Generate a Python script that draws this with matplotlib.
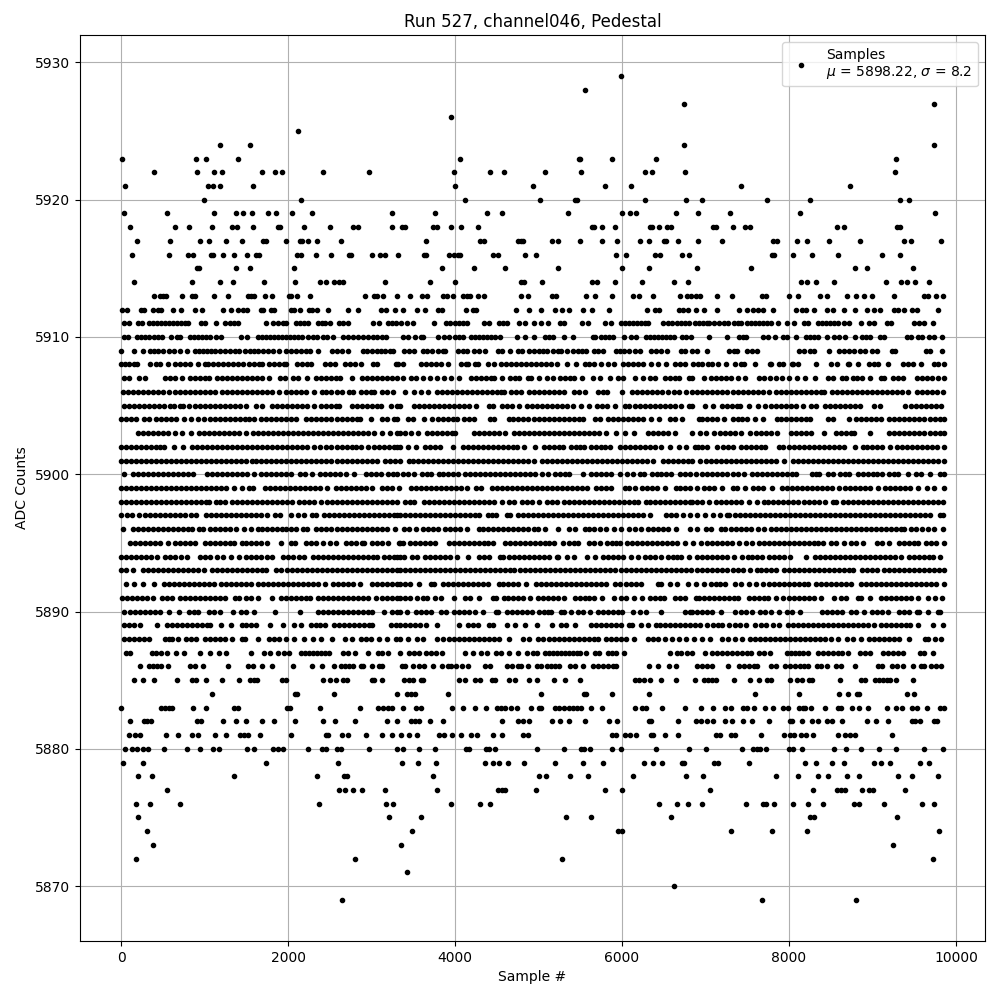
import matplotlib
matplotlib.use("Agg")
import matplotlib.pyplot as plt

# sample numbers, one list per ADC level
row_5929 = [5988]
row_5928 = [5556]
row_5927 = [6744, 9732]
row_5926 = [3956]
row_5925 = [2120]
row_5924 = [1184, 1544, 6744, 9732]
row_5923 = [8, 896, 1016, 1400, 4064, 5484, 5496, 5880, 6408, 9288]
row_5922 = [392, 908, 1112, 1208, 1688, 1844, 1928, 2420, 2972, 3992, 4424, 4592, 5076, 5508, 6276, 6360, 6756, 9276]
row_5921 = [44, 1040, 1100, 1184, 1580, 4004, 4932, 5796, 6108, 7428, 8736]
row_5920 = [992, 2156, 4124, 5016, 5436, 5460, 6276, 6768, 6960, 7740, 8256, 9336, 9444]
row_5919 = [32, 548, 1112, 1376, 1460, 1568, 1760, 1856, 2048, 2288, 3248, 3764, 4388, 4568, 5352, 6000, 6096, 6168,
            6648, 6912, 7296, 8136, 9744]
row_5918 = [104, 644, 812, 1088, 1328, 1388, 1580, 1880, 1904, 2192, 2504, 2780, 2840, 3248, 3368, 3404, 3740, 3788,
            3956, 4076, 4280, 5640, 5664, 5760, 5916, 6336, 6360, 6444, 6540, 6588, 7092, 7128, 7332, 7476, 7536,
            8580, 8664, 9300, 9336]
row_5917 = [188, 584, 944, 1052, 1256, 1448, 1700, 1736, 1976, 2144, 2168, 2240, 2348, 2636, 3656, 4304, 4352, 4760,
            4788, 4812, 5160, 5232, 5496, 5760, 5940, 6216, 6324, 6504, 6528, 6672, 6912, 7200, 7812, 7860, 8100,
            8220, 8484, 8856, 9384, 9468, 9816]
row_5916 = [128, 572, 800, 860, 1076, 1100, 1220, 1352, 1508, 1616, 1652, 2108, 2156, 2336, 2516, 2732, 2756, 3008,
            3104, 3164, 3320, 3632, 3656, 3932, 3992, 4040, 4064, 4460, 4520, 4836, 4968, 5928, 6048, 6396, 6456,
            6720, 6804, 7800, 7824, 8052, 8280, 8592, 9120, 9336]
row_5915 = [908, 932, 1376, 1544, 2072, 3848, 4232, 4604, 5232, 6000, 6324, 6900, 7548, 8796, 8940, 9492]
row_5914 = [152, 848, 1184, 1340, 1712, 2084, 2384, 2456, 2552, 2612, 2660, 3164, 3704, 4004, 4788, 4824, 5040, 5640,
            5700, 5916, 6240, 6624, 6792, 8148, 8220, 8328, 8544, 9168, 9348, 9420, 9516, 9672]
row_5913 = [392, 464, 500, 536, 728, 848, 884, 1112, 1280, 1520, 1556, 1592, 1724, 1808, 2012, 2036, 2108, 2264, 2924,
            3032, 3068, 3140, 3308, 3464, 3608, 3668, 3860, 3908, 3980, 4100, 4148, 4184, 4280, 4352, 4788, 4872,
            5160, 5208, 5568, 5676, 5880, 6132, 6204, 6372, 6696, 6780, 6828, 6888, 6936, 7140, 7320, 7680, 7728,
            8004, 8112, 8376, 8460, 8700, 8808, 8904, 9000, 9264, 9624, 9660, 9756, 9840]
row_5912 = [8, 68, 236, 272, 380, 440, 476, 620, 716, 884, 968, 1220, 1316, 1400, 1460, 1508, 1676, 1700, 1796, 1832,
            2036, 2072, 2144, 2252, 2288, 2348, 2480, 2720, 2840, 3116, 3176, 3284, 3380, 3548, 3644, 3800, 3848,
            4136, 4220, 4256, 4736, 4884, 5028, 5196, 5280, 5364, 5532, 5640, 5844, 6300, 6396, 6444, 6684, 6732,
            6792, 6888, 6984, 7140, 7404, 7500, 7572, 7632, 7692, 7812, 8088, 8160, 8208, 8304, 8460, 8532, 8664,
            8796, 8940, 9024, 9096, 9264, 9312, 9384, 9480, 9540, 9780]
row_5911 = [32, 92, 200, 248, 332, 380, 428, 476, 524, 572, 620, 668, 716, 764, 800, 956, 1004, 1132, 1244, 1304, 1352,
            1400, 1736, 1820, 1880, 1940, 1976, 2096, 2144, 2192, 2240, 2360, 2408, 2444, 2504, 2612, 2660, 2720,
            3020, 3092, 3200, 3248, 3296, 3356, 3428, 3500, 3752, 3896, 3944, 4004, 4052, 4100, 4148, 4352, 4412,
            4532, 4580, 4628, 4772, 4836, 4944, 5028, 5112, 5256, 5304, 5520, 5592, 5796, 5868, 5988, 6036, 6084,
            6132, 6180, 6228, 6276, 6312, 6492, 6552, 6600, 6660, 6708, 6756, 6804, 6876, 6924, 6972, 7020, 7044,
            7104, 7164, 7224, 7272, 7344, 7392, 7428, 7500, 7548, 7596, 7644, 7692, 7740, 7788, 7872, 7980, 8064,
            8180, 8228, 8352, 8400, 8448, 8496, 8544, 8592, 8664, 8724, 8868, 8964, 9024, 9180, 9228, 9504, 9564,
            9624, 9720]
row_5910 = [32, 80, 188, 236, 284, 332, 392, 440, 488, 596, 668, 704, 824, 872, 920, 968, 1016, 1064, 1136, 1196, 1436,
            1508, 1640, 1688, 1736, 1784, 1832, 1880, 1928, 1976, 2024, 2072, 2120, 2168, 2240, 2300, 2348, 2420,
            2468, 2540, 2660, 2720, 2780, 2840, 2900, 2960, 3020, 3060, 3128, 3176, 3380, 3440, 3524, 3596, 3620,
            3800, 3872, 3932, 4004, 4052, 4100, 4196, 4244, 4292, 4340, 4388, 4436, 4484, 4544, 4748, 4840, 4944,
            5076, 5124, 5172, 5304, 5412, 5652, 5676, 5748, 5796, 5844, 5892, 6024, 6108, 6168, 6288, 6336, 6384,
            6432, 6480, 6528, 6576, 6624, 6720, 6768, 6828, 7044, 7260, 7404, 7452, 7488, 7692, 7752, 7836, 7932,
            7980, 8088, 8208, 8256, 8304, 8352, 8460, 8544, 8604, 8676, 8788, 8880, 8928, 8976, 9096, 9144, 9420,
            9468, 9552, 9600, 9672, 9732, 9828]
row_5909 = [0, 160, 260, 340, 388, 440, 500, 572, 628, 700, 788, 880, 930, 980, 1030, 1080, 1130, 1180, 1240, 1300, 1360,
            1412, 1480, 1540, 1590, 1640, 1700, 1760, 1820, 1888, 1980, 2030, 2090, 2150, 2210, 2260, 2360, 2528,
            2580, 2640, 2720, 2900, 2950, 3000, 3060, 3110, 3160, 3220, 3260, 3391, 3450, 3510, 3611, 3670, 3730,
            3790, 3850, 3880, 4030, 4090, 4140, 4230, 4290, 4360, 4510, 4560, 4658, 4756, 4800, 4888, 4950, 5000,
            5048, 5100, 5168, 5230, 5270, 5337, 5415, 5470, 5520, 5569, 5666, 5710, 5768, 5926, 5976, 6026, 6090,
            6150, 6210, 6345, 6405, 6465, 6540, 6704, 6760, 6844, 6900, 7022, 7283, 7340, 7381, 7503, 7560, 7620,
            8121, 8180, 8249, 8300, 8483, 8600, 8660, 8720, 8780, 8850, 8910, 9000, 9050, 9240, 9270, 9638, 9688, 9828]
row_5908 = [0, 50, 100, 160, 188, 340, 420, 470, 560, 640, 700, 760, 820, 920, 1000, 1040, 1100, 1160, 1220, 1280, 1340,
            1400, 1460, 1530, 1590, 1650, 1692, 1770, 1830, 1890, 1950, 1980, 2110, 2170, 2230, 2270, 2442, 2500,
            2558, 2678, 2740, 2800, 2870, 3018, 3068, 3290, 3320, 3381, 3591, 3650, 3710, 3770, 3830, 3911, 4071,
            4130, 4159, 4243, 4271, 4391, 4463, 4551, 4610, 4670, 4730, 4790, 4850, 4910, 4970, 5030, 5090, 5151,
            5221, 5341, 5453, 5551, 5610, 5670, 5751, 5829, 5909, 6011, 6070, 6130, 6190, 6251, 6349, 6429, 6529,
            6631, 6690, 6751, 6851, 6910, 6964, 7030, 7084, 7154, 7246, 7356, 7420, 7456, 7598, 7772, 7784, 7884,
            7924, 8032, 8044, 8114, 8330, 8504, 8576, 8712, 8724, 8822, 8964, 9020, 9072, 9182, 9372, 9430, 9484,
            9582, 9732, 9790, 9856]
row_5907 = [30, 100, 218, 290, 522, 580, 640, 730, 830, 890, 950, 1010, 1050, 1150, 1210, 1270, 1330, 1390, 1450, 1510,
            1570, 1630, 1690, 1770, 1902, 1958, 2058, 2120, 2230, 2330, 2390, 2450, 2510, 2570, 2620, 2768, 2890,
            2950, 3010, 3070, 3130, 3190, 3250, 3310, 3371, 3471, 3530, 3611, 3701, 3789, 3871, 3951, 4053, 4191,
            4250, 4310, 4370, 4430, 4471, 4567, 4659, 4715, 4771, 4871, 4911, 5000, 5099, 5171, 5259, 5320, 5380,
            5423, 5517, 5651, 5731, 5861, 5951, 6011, 6159, 6251, 6333, 6391, 6511, 6570, 6630, 6681, 6803, 6844,
            6984, 7064, 7124, 7184, 7244, 7304, 7384, 7474, 7636, 7700, 7770, 7844, 7914, 7996, 8096, 8194, 8318,
            8464, 8524, 8632, 8684, 8764, 8820, 8880, 8972, 9104, 9144, 9244, 9304, 9364, 9532, 9590, 9650, 9710,
            9784, 9856]
row_5906 = [20, 80, 140, 200, 260, 320, 380, 440, 500, 570, 650, 710, 770, 830, 890, 950, 1010, 1070, 1130, 1210, 1270,
            1330, 1390, 1450, 1510, 1570, 1630, 1690, 1750, 1810, 1890, 1978, 2040, 2100, 2160, 2220, 2310, 2402,
            2460, 2520, 2580, 2640, 2730, 2780, 2870, 2930, 2990, 3030, 3122, 3180, 3262, 3401, 3509, 3591, 3679,
            3783, 3840, 3900, 3960, 4020, 4080, 4140, 4200, 4260, 4320, 4380, 4440, 4500, 4550, 4591, 4671, 4730,
            4791, 4891, 4950, 5010, 5070, 5130, 5190, 5250, 5311, 5431, 5490, 5551, 5711, 5770, 5823, 6001, 6123,
            6180, 6240, 6300, 6360, 6420, 6480, 6551, 6621, 6681, 6763, 6844, 6904, 6964, 7024, 7084, 7144, 7204,
            7264, 7324, 7384, 7444, 7504, 7564, 7624, 7684, 7764, 7844, 7904, 7964, 8024, 8084, 8144, 8204, 8264,
            8324, 8384, 8416, 8516, 8576, 8636, 8696, 8756, 8816, 8876, 8936, 8996, 9056, 9116, 9176, 9236, 9296,
            9356, 9424, 9532, 9590, 9650, 9710, 9770, 9844]
row_5905 = [30, 90, 150, 210, 270, 330, 390, 450, 510, 590, 638, 710, 742, 818, 880, 940, 1000, 1060, 1120, 1180, 1240,
            1300, 1360, 1420, 1498, 1610, 1690, 1810, 1870, 1930, 1990, 2050, 2110, 2170, 2230, 2310, 2390, 2450,
            2510, 2570, 2610, 2770, 2830, 2890, 2950, 3010, 3070, 3110, 3230, 3310, 3345, 3511, 3570, 3630, 3690,
            3750, 3810, 3870, 3930, 3990, 4050, 4110, 4170, 4251, 4403, 4451, 4559, 4620, 4680, 4771, 4859, 4920,
            4980, 5040, 5100, 5160, 5220, 5280, 5340, 5411, 5511, 5603, 5699, 5760, 5820, 5911, 6031, 6090, 6150,
            6210, 6270, 6330, 6390, 6450, 6510, 6570, 6630, 6711, 6803, 6844, 6992, 7094, 7196, 7260, 7320, 7380,
            7416, 7524, 7624, 7716, 7780, 7840, 7900, 7960, 8020, 8080, 8164, 8264, 8324, 8432, 8490, 8550, 8610,
            8670, 8730, 8790, 8852, 9016, 9086, 9396, 9460, 9520, 9580, 9640, 9700, 9760, 9824]
row_5904 = [0, 60, 120, 180, 270, 332, 418, 480, 540, 600, 660, 750, 842, 918, 998, 1060, 1120, 1180, 1240, 1300, 1360,
            1420, 1480, 1535, 1590, 1670, 1730, 1790, 1850, 1910, 1970, 2030, 2090, 2218, 2280, 2340, 2400, 2460,
            2520, 2580, 2640, 2700, 2760, 2820, 2860, 2990, 3122, 3190, 3270, 3310, 3431, 3500, 3623, 3723, 3790,
            3850, 3910, 3970, 4023, 4111, 4170, 4223, 4419, 4471, 4643, 4700, 4760, 4820, 4880, 4940, 5000, 5060,
            5120, 5180, 5240, 5300, 5360, 5420, 5480, 5531, 5671, 5731, 5831, 5890, 5950, 6010, 6070, 6130, 6190,
            6251, 6351, 6441, 6581, 6640, 6721, 6921, 6956, 7020, 7080, 7140, 7224, 7324, 7390, 7440, 7492, 7588,
            7684, 7852, 7910, 7970, 8030, 8090, 8150, 8210, 8256, 8472, 8524, 8714, 8804, 8860, 8920, 8980, 9040,
            9104, 9204, 9264, 9324, 9384, 9444, 9504, 9564, 9624, 9684, 9744, 9804, 9856]
row_5903 = [202, 260, 320, 380, 440, 500, 558, 650, 730, 840, 930, 990, 1050, 1110, 1170, 1230, 1290, 1350, 1410, 1498,
            1582, 1640, 1700, 1760, 1820, 1880, 1940, 2000, 2060, 2120, 2180, 2240, 2300, 2360, 2420, 2480, 2540,
            2600, 2660, 2720, 2780, 2840, 2900, 2960, 3030, 3130, 3222, 3310, 3341, 3400, 3470, 3559, 3659, 3720,
            3780, 3840, 3900, 3960, 4003, 4231, 4290, 4350, 4410, 4470, 4530, 4599, 4711, 4770, 4830, 4890, 4950,
            5010, 5070, 5130, 5190, 5250, 5310, 5370, 5430, 5490, 5550, 5610, 5670, 5730, 5811, 5931, 6031, 6141,
            6311, 6370, 6430, 6490, 6550, 6631, 6840, 6934, 7004, 7108, 7170, 7230, 7290, 7350, 7424, 7536, 7600,
            7660, 7720, 7780, 7852, 8024, 8090, 8150, 8210, 8264, 8426, 8564, 8620, 8680, 8740, 8784, 8974, 9204,
            9264, 9324, 9384, 9444, 9504, 9564, 9624, 9684, 9744, 9804, 9856]
row_5902 = [0, 60, 120, 180, 240, 300, 360, 420, 470, 508, 628, 736, 850, 910, 970, 1030, 1090, 1150, 1210, 1270, 1330,
            1390, 1450, 1510, 1570, 1630, 1690, 1750, 1810, 1870, 1930, 1990, 2050, 2110, 2170, 2230, 2310, 2380,
            2458, 2520, 2580, 2640, 2700, 2760, 2810, 2870, 2960, 3030, 3090, 3150, 3210, 3270, 3310, 3341, 3431,
            3537, 3643, 3700, 3760, 3823, 3981, 4091, 4150, 4210, 4270, 4330, 4390, 4450, 4510, 4570, 4630, 4690,
            4743, 4829, 4953, 5063, 5120, 5180, 5240, 5299, 5391, 5450, 5500, 5543, 5631, 5690, 5750, 5800, 5851,
            5979, 6040, 6100, 6160, 6220, 6280, 6340, 6400, 6471, 6577, 6683, 6771, 6871, 6914, 6964, 7024, 7144,
            7210, 7270, 7332, 7424, 7480, 7540, 7600, 7660, 7716, 7884, 7924, 8004, 8060, 8120, 8180, 8240, 8300,
            8360, 8420, 8480, 8540, 8600, 8656, 8786, 8884, 8940, 9000, 9060, 9120, 9212, 9292, 9350, 9410, 9470,
            9530, 9590, 9650, 9710, 9770, 9856]
row_5901 = [0, 60, 120, 180, 240, 300, 360, 420, 480, 540, 600, 660, 720, 780, 840, 900, 960, 1020, 1080, 1140, 1200,
            1260, 1320, 1380, 1430, 1492, 1562, 1620, 1680, 1740, 1800, 1860, 1920, 1980, 2040, 2100, 2160, 2220,
            2280, 2340, 2400, 2460, 2520, 2580, 2640, 2700, 2760, 2820, 2880, 2940, 3000, 3070, 3162, 3220, 3280,
            3346, 3443, 3500, 3560, 3620, 3680, 3740, 3800, 3860, 3920, 3980, 4040, 4100, 4160, 4220, 4280, 4340,
            4400, 4460, 4520, 4580, 4640, 4700, 4760, 4820, 4880, 4943, 5043, 5100, 5160, 5220, 5280, 5340, 5400,
            5460, 5520, 5580, 5640, 5700, 5760, 5820, 5880, 5940, 6000, 6060, 6120, 6180, 6240, 6300, 6371, 6491,
            6550, 6610, 6670, 6730, 6790, 6844, 6936, 7012, 7070, 7130, 7190, 7250, 7310, 7370, 7430, 7490, 7550,
            7610, 7670, 7730, 7790, 7850, 7944, 8052, 8110, 8170, 8230, 8290, 8350, 8410, 8470, 8530, 8590, 8650,
            8710, 8770, 8830, 8890, 8950, 9010, 9070, 9130, 9190, 9250, 9310, 9370, 9430, 9490, 9550, 9610, 9670,
            9730, 9790, 9856]
row_5900 = [40, 138, 198, 258, 318, 378, 438, 498, 558, 618, 678, 738, 798, 858, 1030, 1090, 1150, 1210, 1270, 1330,
            1390, 1450, 1510, 1590, 1678, 1740, 1800, 1860, 1920, 1980, 2038, 2138, 2200, 2290, 2378, 2440, 2500,
            2560, 2620, 2690, 2790, 2930, 2990, 3050, 3110, 3202, 3260, 3310, 3371, 3440, 3511, 3603, 3660, 3711,
            3803, 3860, 3920, 3980, 4039, 4123, 4180, 4240, 4300, 4360, 4420, 4480, 4540, 4600, 4660, 4720, 4780,
            4840, 4900, 4960, 5039, 5109, 5199, 5260, 5320, 5371, 5533, 5631, 5690, 5750, 5810, 5870, 5971, 6059,
            6131, 6219, 6259, 6363, 6420, 6471, 6529, 6589, 6699, 6760, 6820, 6884, 6964, 7024, 7084, 7144, 7204,
            7264, 7324, 7384, 7464, 7556, 7616, 7676, 7736, 7796, 7856, 7916, 7976, 8036, 8088, 8276, 8320, 8364,
            8464, 8524, 8612, 8670, 8720, 8832, 8890, 8950, 9010, 9060, 9112, 9204, 9254, 9304, 9422, 9524, 9584,
            9684, 9804, 9856]
row_5899 = [0, 60, 120, 180, 240, 300, 360, 420, 480, 540, 600, 660, 720, 780, 840, 900, 960, 1020, 1080, 1140, 1200,
            1260, 1350, 1448, 1532, 1580, 1718, 1780, 1840, 1900, 1960, 2020, 2080, 2140, 2200, 2260, 2320, 2380,
            2470, 2570, 2630, 2690, 2750, 2810, 2870, 2930, 3010, 3122, 3190, 3250, 3328, 3471, 3530, 3590, 3650,
            3710, 3770, 3830, 3890, 3950, 4010, 4070, 4139, 4251, 4311, 4443, 4500, 4560, 4620, 4680, 4740, 4800,
            4860, 4920, 4980, 5040, 5100, 5160, 5220, 5280, 5340, 5400, 5460, 5520, 5583, 5691, 5750, 5810, 5871,
            6031, 6090, 6151, 6243, 6300, 6360, 6420, 6511, 6643, 6700, 6760, 6820, 6896, 6984, 7044, 7104, 7204,
            7324, 7372, 7474, 7572, 7630, 7690, 7794, 7916, 7976, 8036, 8096, 8156, 8216, 8276, 8336, 8396, 8456,
            8516, 8604, 8676, 8736, 8796, 8856, 8916, 8976, 9064, 9156, 9216, 9276, 9336, 9396, 9456, 9544, 9656,
            9736, 9854]
row_5898 = [0, 60, 120, 180, 240, 300, 360, 420, 480, 540, 600, 660, 720, 780, 840, 900, 960, 1020, 1050, 1138, 1190,
            1250, 1330, 1390, 1450, 1510, 1570, 1630, 1690, 1750, 1810, 1870, 1930, 1990, 2050, 2130, 2190, 2250,
            2310, 2390, 2470, 2530, 2590, 2650, 2710, 2770, 2830, 2890, 2950, 3010, 3070, 3130, 3190, 3250, 3310,
            3403, 3460, 3511, 3631, 3690, 3750, 3810, 3870, 3930, 3990, 4050, 4110, 4170, 4230, 4290, 4350, 4410,
            4470, 4559, 4643, 4711, 4803, 4860, 4920, 5011, 5099, 5160, 5223, 5303, 5360, 5420, 5480, 5540, 5600,
            5660, 5720, 5780, 5840, 5900, 5960, 6020, 6080, 6140, 6191, 6283, 6340, 6400, 6460, 6520, 6580, 6640,
            6700, 6760, 6820, 6844, 6904, 6964, 7044, 7132, 7190, 7250, 7310, 7370, 7430, 7516, 7614, 7696, 7750,
            7810, 7870, 7930, 7990, 8050, 8104, 8176, 8240, 8300, 8360, 8436, 8524, 8564, 8644, 8704, 8764, 8824,
            8884, 8944, 9004, 9064, 9124, 9184, 9244, 9304, 9364, 9424, 9484, 9544, 9604, 9664, 9724, 9784, 9844]
row_5897 = [0, 70, 130, 218, 280, 340, 400, 460, 520, 580, 640, 700, 760, 838, 900, 1018, 1080, 1140, 1200, 1260, 1320,
            1380, 1440, 1500, 1560, 1620, 1680, 1750, 1842, 1902, 2034, 2118, 2188, 2282, 2330, 2430, 2490, 2550,
            2610, 2670, 2730, 2790, 2850, 2910, 2970, 3030, 3090, 3150, 3210, 3270, 3310, 3341, 3400, 3460, 3520,
            3580, 3640, 3700, 3760, 3820, 3880, 3940, 4000, 4060, 4120, 4180, 4240, 4291, 4391, 4440, 4491, 4619,
            4663, 4751, 4810, 4870, 4930, 4990, 5050, 5110, 5170, 5230, 5290, 5350, 5410, 5470, 5530, 5590, 5650,
            5710, 5770, 5830, 5890, 5950, 6010, 6070, 6130, 6190, 6250, 6331, 6531, 6590, 6650, 6731, 6819, 6904,
            6994, 7092, 7176, 7256, 7284, 7356, 7416, 7476, 7536, 7596, 7656, 7716, 7776, 7836, 7896, 7956, 8016,
            8076, 8136, 8196, 8256, 8316, 8376, 8436, 8496, 8556, 8616, 8676, 8736, 8796, 8856, 8916, 8976, 9036,
            9096, 9156, 9216, 9276, 9336, 9396, 9456, 9516, 9576, 9636, 9684, 9804, 9844]
row_5896 = [26, 142, 200, 260, 320, 380, 440, 500, 560, 620, 680, 740, 800, 850, 930, 982, 1070, 1130, 1190, 1250, 1310,
            1382, 1470, 1550, 1634, 1690, 1750, 1810, 1870, 1930, 1980, 2030, 2100, 2178, 2230, 2338, 2400, 2460,
            2520, 2580, 2640, 2700, 2760, 2820, 2880, 2940, 3000, 3060, 3120, 3182, 3280, 3391, 3450, 3531, 3619,
            3680, 3740, 3791, 3883, 3940, 4000, 4060, 4139, 4283, 4340, 4400, 4460, 4520, 4580, 4640, 4700, 4760,
            4820, 4880, 4940, 4999, 5081, 5229, 5371, 5443, 5551, 5610, 5670, 5740, 5811, 5901, 5991, 6079, 6159,
            6231, 6311, 6370, 6430, 6490, 6550, 6651, 6819, 6896, 7004, 7072, 7184, 7240, 7300, 7360, 7420, 7480,
            7544, 7632, 7696, 7784, 7844, 7904, 7964, 8024, 8084, 8144, 8204, 8264, 8324, 8384, 8444, 8504, 8564,
            8624, 8684, 8744, 8804, 8864, 8924, 8984, 9044, 9104, 9164, 9224, 9284, 9344, 9384, 9464, 9524, 9596,
            9660, 9734, 9846]
row_5895 = [110, 170, 230, 290, 350, 410, 470, 558, 650, 710, 770, 830, 882, 1010, 1070, 1130, 1190, 1250, 1300, 1350,
            1442, 1500, 1560, 1620, 1680, 1750, 1920, 2030, 2078, 2218, 2280, 2340, 2420, 2498, 2572, 2690, 2750,
            2810, 2890, 2910, 3002, 3060, 3120, 3198, 3330, 3341, 3371, 3459, 3520, 3580, 3640, 3700, 3761, 3931,
            3990, 4050, 4110, 4170, 4230, 4290, 4350, 4400, 4451, 4599, 4660, 4720, 4780, 4840, 4900, 4960, 5020,
            5080, 5130, 5183, 5299, 5360, 5420, 5479, 5603, 5660, 5731, 5819, 5880, 5930, 5971, 6059, 6120, 6180,
            6240, 6300, 6360, 6420, 6480, 6540, 6600, 6660, 6751, 6851, 6944, 7024, 7080, 7140, 7200, 7260, 7320,
            7396, 7484, 7552, 7644, 7700, 7760, 7820, 7880, 7940, 8000, 8060, 8120, 8180, 8240, 8300, 8344, 8414,
            8504, 8560, 8656, 8744, 8800, 8884, 9052, 9120, 9196, 9316, 9380, 9440, 9500, 9552, 9644, 9700, 9760,
            9856]
row_5894 = [2, 60, 120, 180, 240, 300, 360, 430, 530, 590, 650, 720, 790, 950, 1010, 1070, 1150, 1222, 1322, 1410, 1498,
            1560, 1620, 1680, 1750, 1810, 1938, 2000, 2060, 2130, 2190, 2298, 2360, 2420, 2480, 2540, 2600, 2660,
            2720, 2780, 2840, 2900, 2960, 3020, 3070, 3150, 3210, 3270, 3310, 3341, 3389, 3483, 3543, 3643, 3700,
            3760, 3820, 3880, 3940, 4019, 4161, 4283, 4350, 4411, 4539, 4571, 4651, 4710, 4770, 4830, 4890, 4950,
            5010, 5070, 5131, 5219, 5239, 5339, 5431, 5581, 5673, 5771, 5830, 5890, 5950, 6011, 6111, 6191, 6271,
            6330, 6390, 6471, 6551, 6610, 6660, 6711, 6797, 6896, 6960, 7020, 7080, 7140, 7200, 7260, 7344, 7434,
            7504, 7560, 7620, 7672, 7756, 7820, 7880, 7940, 8014, 8206, 8312, 8370, 8430, 8490, 8550, 8610, 8670,
            8730, 8790, 8850, 8910, 8970, 9030, 9090, 9150, 9210, 9270, 9344, 9444, 9500, 9560, 9620, 9680, 9724,
            9806]
row_5893 = [2, 60, 140, 262, 320, 380, 440, 500, 560, 620, 680, 740, 800, 860, 920, 998, 1090, 1150, 1210, 1270, 1330,
            1390, 1450, 1510, 1570, 1630, 1690, 1738, 1850, 1918, 1990, 2050, 2110, 2170, 2230, 2290, 2350, 2410,
            2470, 2530, 2590, 2650, 2710, 2770, 2830, 2890, 2950, 3010, 3070, 3130, 3190, 3250, 3310, 3341, 3400,
            3460, 3520, 3580, 3640, 3700, 3760, 3820, 3880, 3940, 4000, 4060, 4120, 4180, 4240, 4300, 4360, 4420,
            4480, 4540, 4600, 4660, 4703, 4779, 4840, 4900, 4960, 5020, 5080, 5140, 5200, 5260, 5320, 5380, 5440,
            5500, 5560, 5620, 5680, 5740, 5800, 5860, 5919, 5991, 6050, 6110, 6170, 6230, 6290, 6350, 6410, 6470,
            6530, 6590, 6650, 6710, 6770, 6830, 6904, 6964, 7024, 7084, 7144, 7204, 7264, 7324, 7384, 7444, 7532,
            7612, 7670, 7730, 7790, 7844, 7944, 8004, 8064, 8124, 8184, 8244, 8304, 8364, 8424, 8484, 8544, 8604,
            8664, 8724, 8772, 8872, 8930, 8990, 9052, 9136, 9196, 9256, 9316, 9376, 9436, 9496, 9556, 9616, 9676,
            9736, 9796, 9856]
row_5892 = [56, 158, 262, 388, 510, 570, 630, 690, 750, 810, 870, 930, 990, 1050, 1110, 1202, 1260, 1320, 1380, 1440,
            1500, 1550, 1638, 1700, 1760, 1820, 1880, 1940, 2000, 2060, 2120, 2180, 2240, 2300, 2360, 2438, 2542,
            2600, 2660, 2720, 2780, 2862, 3002, 3060, 3120, 3180, 3240, 3310, 3341, 3400, 3460, 3571, 3711, 3751,
            3851, 3910, 3970, 4030, 4090, 4150, 4210, 4270, 4330, 4391, 4523, 4580, 4640, 4700, 4760, 4851, 4973,
            5030, 5090, 5150, 5210, 5270, 5330, 5390, 5450, 5510, 5570, 5630, 5690, 5750, 5811, 5911, 5971, 6051,
            6110, 6170, 6231, 6431, 6471, 6571, 6663, 6791, 6891, 6984, 7064, 7130, 7180, 7236, 7356, 7420, 7516,
            7604, 7684, 7764, 7824, 7884, 7944, 8004, 8064, 8124, 8184, 8232, 8324, 8384, 8444, 8504, 8564, 8624,
            8684, 8744, 8864, 8924, 8984, 9044, 9104, 9164, 9224, 9284, 9344, 9404, 9464, 9524, 9584, 9644, 9704,
            9764, 9856]
row_5891 = [10, 70, 130, 190, 250, 310, 382, 490, 550, 610, 710, 770, 830, 890, 950, 1010, 1070, 1130, 1190, 1250, 1370,
            1410, 1498, 1560, 1642, 1808, 1910, 1970, 2030, 2090, 2150, 2210, 2262, 2362, 2420, 2480, 2540, 2600,
            2660, 2720, 2780, 2840, 2900, 2960, 3050, 3122, 3180, 3240, 3310, 3341, 3400, 3460, 3540, 3611, 3669,
            3759, 3831, 3993, 4119, 4183, 4293, 4459, 4491, 4583, 4640, 4700, 4760, 4811, 4901, 4991, 5050, 5110,
            5170, 5230, 5311, 5439, 5500, 5560, 5610, 5663, 5761, 5901, 5993, 6050, 6143, 6241, 6331, 6390, 6450,
            6503, 6631, 6690, 6751, 6881, 6920, 6980, 7040, 7100, 7160, 7220, 7280, 7340, 7384, 7516, 7580, 7640,
            7700, 7752, 7844, 7924, 8004, 8060, 8120, 8180, 8240, 8296, 8386, 8534, 8624, 8684, 8824, 8864, 8966,
            9104, 9164, 9224, 9284, 9344, 9404, 9464, 9544, 9664, 9752, 9834]
row_5890 = [30, 110, 170, 230, 290, 350, 410, 470, 570, 692, 818, 868, 918, 1050, 1110, 1182, 1340, 1430, 1490, 1590,
            1840, 2144, 2362, 2420, 2480, 2540, 2600, 2660, 2720, 2780, 2840, 2900, 2960, 3010, 3146, 3242, 3300,
            3341, 3429, 3531, 3590, 3650, 3711, 3831, 3891, 3993, 4050, 4110, 4170, 4239, 4337, 4491, 4519, 4619,
            4680, 4740, 4800, 4860, 4920, 5000, 5060, 5110, 5153, 5271, 5311, 5389, 5471, 5530, 5611, 5711, 5770,
            5830, 5890, 5950, 5999, 6131, 6211, 6293, 6469, 6751, 6810, 6844, 6904, 6964, 7024, 7084, 7184, 7356,
            7420, 7490, 7552, 7652, 7712, 7784, 7884, 7976, 8040, 8132, 8396, 8460, 8520, 8580, 8632, 8744, 8800,
            8904, 8992, 9050, 9120, 9184, 9316, 9380, 9444, 9532, 9564, 9668, 9784, 9804]
row_5889 = [30, 90, 160, 222, 426, 550, 610, 670, 730, 790, 850, 910, 970, 1030, 1070, 1192, 1312, 1442, 1500, 1560,
            1610, 1780, 1940, 2070, 2158, 2270, 2330, 2380, 2442, 2550, 2610, 2670, 2730, 2790, 2850, 2910, 2970,
            3010, 3230, 3290, 3341, 3400, 3460, 3520, 3580, 3651, 3789, 4053, 4159, 4211, 4281, 4411, 4459, 4625,
            4721, 4835, 4981, 5165, 5271, 5331, 5441, 5631, 5690, 5750, 5810, 5870, 5930, 5991, 6081, 6121, 6231,
            6311, 6403, 6460, 6520, 6580, 6640, 6700, 6760, 6820, 6880, 6936, 7024, 7090, 7150, 7204, 7284, 7350,
            7410, 7484, 7596, 7660, 7730, 7804, 7886, 7984, 8044, 8104, 8164, 8224, 8284, 8344, 8404, 8464, 8524,
            8584, 8644, 8704, 8764, 8824, 8884, 8944, 9024, 9104, 9164, 9224, 9284, 9344, 9404, 9456, 9542, 9722, 9850]
row_5888 = [30, 90, 150, 210, 270, 330, 522, 570, 610, 684, 778, 840, 902, 1010, 1070, 1130, 1190, 1250, 1330, 1450,
            1482, 1640, 1770, 1830, 1890, 1970, 2068, 2188, 2302, 2390, 2530, 2678, 2770, 2870, 2930, 2990, 3090,
            3180, 3298, 3345, 3441, 3539, 3611, 3783, 3851, 3931, 3990, 4050, 4110, 4170, 4230, 4290, 4350, 4410,
            4470, 4531, 4641, 4811, 4891, 4995, 5059, 5120, 5180, 5240, 5300, 5360, 5420, 5480, 5540, 5600, 5660,
            5711, 5811, 5870, 5930, 5990, 6050, 6139, 6311, 6370, 6430, 6511, 6601, 6681, 6761, 6861, 6960, 7053,
            7196, 7272, 7354, 7434, 7532, 7592, 7652, 7712, 7772, 7832, 7892, 7952, 8012, 8072, 8132, 8192, 8252,
            8312, 8372, 8432, 8504, 8586, 8692, 8764, 8862, 8964, 9024, 9084, 9144, 9204, 9264, 9324, 9444, 9632,
            9664, 9744, 9816]
row_5887 = [56, 104, 368, 416, 476, 548, 656, 752, 944, 1064, 1172, 1256, 1556, 1712, 1784, 1880, 1952, 2012, 2156,
            2204, 2252, 2300, 2348, 2396, 2444, 2492, 2660, 2720, 2804, 2960, 3080, 3128, 3200, 3344, 3452, 3512,
            3572, 3656, 3716, 3776, 3848, 4124, 4220, 4316, 4388, 4496, 4556, 4652, 4760, 4860, 4932, 4980, 5076,
            5124, 5172, 5220, 5268, 5316, 5364, 5412, 5460, 5492, 5568, 5676, 5724, 5832, 5880, 5928, 6024, 6576,
            6660, 6708, 6780, 6840, 6996, 7080, 7140, 7200, 7260, 7320, 7380, 7440, 7500, 7540, 7644, 7704, 7776,
            7980, 8028, 8076, 8124, 8172, 8232, 8352, 8412, 8472, 8532, 8592, 8640, 8712, 8856, 8916, 8976, 9132,
            9192, 9252, 9312, 9372, 9576, 9624, 9720]
row_5886 = [224, 332, 380, 428, 476, 560, 824, 884, 980, 1280, 1520, 1580, 1688, 1808, 2060, 2288, 2408, 2552, 2636,
            2684, 2732, 2780, 2876, 2900, 3008, 3092, 3124, 3368, 3404, 3500, 3572, 3632, 3740, 3848, 3920, 3948,
            4016, 4088, 4160, 4364, 4424, 4628, 4688, 4760, 4788, 4872, 4980, 5028, 5100, 5148, 5196, 5244, 5376,
            5436, 5532, 5652, 5712, 5772, 5832, 5892, 5928, 6324, 6432, 6564, 6648, 6900, 6960, 7020, 7080, 7272,
            7404, 7464, 7524, 7584, 7620, 7788, 7848, 7956, 8016, 8076, 8136, 8184, 8232, 8340, 8388, 8460, 8568,
            8628, 8796, 9072, 9120, 9240, 9300, 9372, 9492, 9588, 9624, 9696, 9756, 9816]
row_5885 = [152, 260, 392, 668, 848, 896, 1016, 1208, 1412, 1544, 1592, 1628, 1928, 1976, 2420, 2504, 2576, 2660, 2708,
            3008, 3032, 3128, 3392, 3452, 3500, 3596, 3620, 4052, 4124, 4244, 4304, 4448, 4484, 4652, 4724, 4884,
            4980, 5184, 5316, 5496, 6156, 6204, 6264, 6336, 6468, 6648, 6876, 6984, 7032, 7080, 7128, 7344, 7536,
            7644, 7740, 7788, 8016, 8100, 8160, 8244, 8280, 8616, 8868, 8916, 9036, 9084, 9132, 9180, 9216, 9288, 9492]
row_5884 = [1088, 2084, 2108, 2552, 3308, 3428, 3476, 3524, 3920, 5028, 5544, 5568, 5880, 6324, 7596, 8124, 8604, 8712,
            8820, 8844, 9420, 9504]
row_5883 = [0, 476, 524, 572, 608, 860, 1012, 1352, 1400, 1988, 2024, 2384, 2864, 3080, 3140, 3200, 3248, 3380, 3536,
            3596, 3968, 4100, 4244, 4376, 4508, 4556, 4604, 4668, 4740, 4908, 5004, 5028, 5196, 5244, 5304, 5364,
            5412, 5460, 5508, 5628, 5760, 6156, 6240, 6288, 6480, 6756, 6948, 7092, 7236, 7308, 7452, 7500, 7580,
            7716, 7812, 7932, 7992, 8124, 8172, 8196, 8268, 8436, 8592, 8628, 8760, 8844, 8952, 9180, 9288, 9360,
            9480, 9532, 9648, 9804, 9852]
row_5882 = [108, 272, 308, 356, 908, 956, 1220, 1376, 1496, 1688, 1832, 2084, 2420, 2564, 2804, 3188, 3308, 3476, 3524,
            3572, 3704, 3860, 4568, 4760, 4812, 4884, 5160, 5256, 5364, 5556, 5844, 5940, 6324, 6348, 6672, 6888,
            6948, 7020, 7092, 7236, 7320, 7452, 7560, 7764, 8016, 8040, 8160, 8280, 8352, 8460, 8520, 8640, 8940,
            9048, 9192, 9480, 9516, 9576, 9732, 9768]
row_5881 = [92, 164, 224, 536, 680, 848, 920, 1124, 1256, 1424, 1472, 1520, 1664, 2036, 2456, 2480, 2648, 2720, 2936,
            3128, 3248, 3356, 3452, 3548, 3812, 3872, 3968, 4076, 4196, 4268, 4460, 4568, 4812, 4872, 5880, 5928,
            6036, 6096, 6168, 6348, 6372, 6516, 6672, 7128, 7176, 7308, 7356, 7668, 7944, 8016, 8064, 8148, 8208,
            8292, 8592, 8676, 8736, 8796, 9240]
row_5880 = [44, 128, 188, 260, 320, 512, 788, 944, 1100, 1172, 1508, 1592, 1820, 1880, 1940, 2240, 2408, 2456, 2588,
            2636, 2972, 3308, 3380, 3572, 3764, 4136, 4172, 4376, 4412, 4484, 4980, 5304, 5508, 5544, 5616, 5880,
            5988, 6408, 6804, 7008, 7440, 7572, 7620, 7656, 7728, 8004, 8052, 8160, 8544, 8688, 8868, 9084, 9288,
            9624, 9840]
row_5879 = [20, 260, 1736, 2600, 3368, 3560, 3776, 4364, 4460, 4532, 4640, 4824, 5196, 5532, 5772, 6264, 6372, 6480,
            6720, 6744, 7104, 7152, 7524, 8196, 8328, 8520, 8664, 9024, 9108, 9216, 9576, 9672]
row_5878 = [200, 368, 1352, 2348, 2672, 2708, 3740, 5004, 5088, 5376, 5592, 6132, 6768, 6972, 7848, 8112, 8352, 8472,
            8700, 8844, 9312, 9480, 9780]
row_5877 = [548, 2612, 2684, 2780, 2888, 3164, 3788, 4520, 4568, 4604, 4968, 5796, 6000, 7056, 8292, 8580, 8628, 8676,
            8880, 8964, 9012, 9396]
row_5876 = [176, 344, 704, 2372, 3176, 3260, 3956, 4304, 4424, 6444, 6660, 6792, 6960, 7488, 7692, 7728, 7824, 8052,
            8232, 8412, 8784, 8844, 9144, 9600, 9732]
row_5875 = [200, 3212, 3596, 5328, 5628, 6588, 8256, 8304, 9300]
row_5874 = [308, 3488, 5952, 6000, 7308, 7800, 8220, 9792]
row_5873 = [380, 3356, 9252]
row_5872 = [176, 2804, 5280, 9720]
row_5871 = [3428]
row_5870 = [6624]
row_5869 = [2648, 7680, 8808]

levels = list(range(5929, 5868, -1))
rows = [row_5929, row_5928, row_5927, row_5926, row_5925, row_5924, row_5923, row_5922, row_5921, row_5920,
        row_5919, row_5918, row_5917, row_5916, row_5915, row_5914, row_5913, row_5912, row_5911, row_5910,
        row_5909, row_5908, row_5907, row_5906, row_5905, row_5904, row_5903, row_5902, row_5901, row_5900,
        row_5899, row_5898, row_5897, row_5896, row_5895, row_5894, row_5893, row_5892, row_5891, row_5890,
        row_5889, row_5888, row_5887, row_5886, row_5885, row_5884, row_5883, row_5882, row_5881, row_5880,
        row_5879, row_5878, row_5877, row_5876, row_5875, row_5874, row_5873, row_5872, row_5871, row_5870,
        row_5869]

x = []
y = []
for level, row in zip(levels, rows):
    x.extend(row)
    y.extend([level] * len(row))

fig, ax = plt.subplots(figsize=(10, 10))
ax.plot(x, y, "k.", label="Samples\n$\\mu$ = 5898.22, $\\sigma$ = 8.2")
ax.set_title("Run 527, channel046, Pedestal")
ax.set_xlabel("Sample #")
ax.set_ylabel("ADC Counts")
ax.grid(True)
ax.legend(loc="upper right")
fig.subplots_adjust(left=0.08, right=0.985, top=0.965, bottom=0.059)
fig.savefig("out.png", dpi=100)
